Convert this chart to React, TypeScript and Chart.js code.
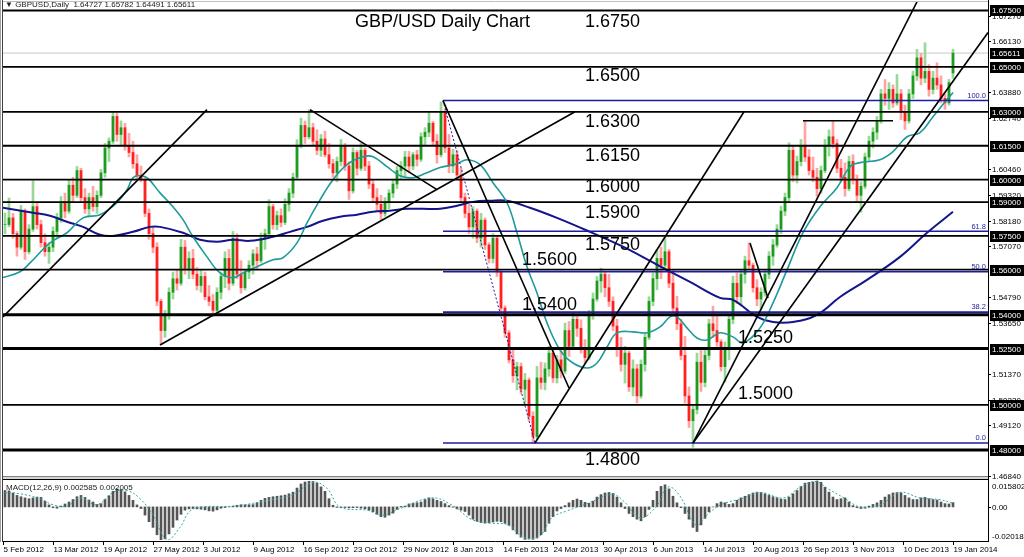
import React, { useEffect, useRef } from "react";
import { Chart, registerables } from "chart.js";
Chart.register(...registerables);

// ---------- DATA (2-trading-day bars, index 0..237) ----------
const dateLabels = ["5 Feb 2012","13 Mar 2012","19 Apr 2012","27 May 2012","3 Jul 2012","9 Aug 2012","16 Sep 2012","23 Oct 2012","29 Nov 2012","8 Jan 2013","14 Feb 2013","24 Mar 2013","30 Apr 2013","6 Jun 2013","14 Jul 2013","20 Aug 2013","26 Sep 2013","3 Nov 2013","10 Dec 2013","19 Jan 2014"];
const barsPerDateLabel = 12.5;

const openP = [
1.5800,1.5800,1.5830,1.5760,1.5700,1.5860,1.5680,1.5780,1.5880,1.5800,
1.5720,1.5680,1.5700,1.5770,1.5830,1.5900,1.5860,1.5975,1.5930,1.6040,
1.5920,1.5870,1.5920,1.5880,1.5930,1.6030,1.6140,1.6170,1.6280,1.6200,
1.6230,1.6150,1.6120,1.6070,1.6020,1.6000,1.5850,1.5760,1.5700,1.5460,
1.5330,1.5400,1.5500,1.5560,1.5540,1.5700,1.5600,1.5650,1.5580,1.5530,
1.5570,1.5480,1.5460,1.5420,1.5500,1.5570,1.5650,1.5540,1.5740,1.5580,
1.5520,1.5590,1.5620,1.5670,1.5640,1.5740,1.5760,1.5880,1.5800,1.5840,
1.5810,1.5890,1.5940,1.6010,1.6150,1.6240,1.6190,1.6230,1.6170,1.6130,
1.6180,1.6110,1.6070,1.6030,1.6080,1.6150,1.6060,1.5950,1.6120,1.6050,
1.6130,1.6060,1.5980,1.5920,1.5890,1.5850,1.5900,1.5940,1.5980,1.6040,
1.6060,1.6100,1.6060,1.6110,1.6090,1.6190,1.6210,1.6250,1.6170,1.6110,
1.6300,1.6140,1.6060,1.6110,1.6020,1.5920,1.5850,1.5790,1.5860,1.5740,
1.5820,1.5710,1.5650,1.5740,1.5590,1.5430,1.5320,1.5200,1.5130,1.5170,
1.5070,1.5110,1.4950,1.4860,1.5120,1.5100,1.5160,1.5230,1.5120,1.5200,
1.5150,1.5330,1.5260,1.5380,1.5340,1.5250,1.5210,1.5400,1.5470,1.5550,
1.5580,1.5520,1.5460,1.5350,1.5250,1.5180,1.5230,1.5080,1.5160,1.5040,
1.5180,1.5300,1.5460,1.5560,1.5650,1.5620,1.5680,1.5540,1.5430,1.5360,
1.5220,1.5040,1.4930,1.4980,1.5190,1.5100,1.5220,1.5360,1.5330,1.5280,
1.5170,1.5250,1.5380,1.5540,1.5480,1.5580,1.5640,1.5620,1.5520,1.5470,
1.5500,1.5580,1.5660,1.5710,1.5780,1.5860,1.5920,1.6130,1.6020,1.6080,
1.6150,1.6100,1.6040,1.6010,1.5960,1.6040,1.6150,1.6190,1.6160,1.6050,
1.6010,1.5960,1.6080,1.6000,1.5930,1.5970,1.6100,1.6170,1.6210,1.6260,
1.6380,1.6360,1.6400,1.6340,1.6380,1.6300,1.6260,1.6380,1.6460,1.6540,
1.6450,1.6480,1.6400,1.6450,1.6420,1.6360,1.6340,1.6473];

const highP = [
1.5852,1.5918,1.5850,1.5770,1.5885,1.5870,1.5800,1.5995,1.5900,1.5820,
1.5760,1.5720,1.5790,1.5850,1.5925,1.5940,1.5998,1.6010,1.6058,1.6050,
1.5960,1.5940,1.5970,1.5950,1.6045,1.6160,1.6185,1.6302,1.6295,1.6260,
1.6250,1.6205,1.6170,1.6110,1.6060,1.6010,1.5870,1.5790,1.5720,1.5470,
1.5420,1.5520,1.5590,1.5600,1.5735,1.5730,1.5680,1.5690,1.5610,1.5600,
1.5590,1.5530,1.5490,1.5520,1.5590,1.5680,1.5690,1.5770,1.5760,1.5640,
1.5600,1.5640,1.5689,1.5700,1.5763,1.5780,1.5911,1.5890,1.5860,1.5870,
1.5915,1.5960,1.6029,1.6177,1.6273,1.6260,1.6309,1.6250,1.6221,1.6200,
1.6215,1.6160,1.6090,1.6100,1.6178,1.6160,1.6080,1.6140,1.6130,1.6162,
1.6140,1.6080,1.6000,1.5960,1.5930,1.5920,1.5955,1.6000,1.6059,1.6080,
1.6125,1.6125,1.6120,1.6130,1.6207,1.6230,1.6303,1.6258,1.6200,1.6344,
1.6310,1.6200,1.6135,1.6130,1.6050,1.5940,1.5890,1.5880,1.5870,1.5850,
1.5830,1.5720,1.5760,1.5750,1.5600,1.5440,1.5330,1.5245,1.5190,1.5186,
1.5140,1.5120,1.4970,1.5171,1.5190,1.5186,1.5260,1.5245,1.5220,1.5240,
1.5363,1.5370,1.5408,1.5400,1.5378,1.5290,1.5420,1.5497,1.5570,1.5607,
1.5590,1.5580,1.5480,1.5380,1.5300,1.5260,1.5240,1.5200,1.5180,1.5200,
1.5320,1.5480,1.5585,1.5689,1.5700,1.5752,1.5690,1.5600,1.5482,1.5380,
1.5304,1.5080,1.5000,1.5230,1.5245,1.5250,1.5380,1.5438,1.5400,1.5290,
1.5280,1.5400,1.5571,1.5586,1.5600,1.5660,1.5719,1.5630,1.5556,1.5520,
1.5600,1.5680,1.5734,1.5800,1.5882,1.5940,1.6163,1.6150,1.6104,1.6178,
1.6259,1.6133,1.6100,1.6050,1.6060,1.6178,1.6220,1.6259,1.6178,1.6090,
1.6074,1.6104,1.6110,1.6020,1.5990,1.6118,1.6192,1.6230,1.6280,1.6400,
1.6444,1.6430,1.6420,1.6466,1.6400,1.6330,1.6400,1.6481,1.6577,1.6560,
1.6607,1.6510,1.6480,1.6518,1.6460,1.6380,1.6444,1.6578];

const lowP = [
1.5760,1.5790,1.5740,1.5660,1.5690,1.5645,1.5670,1.5770,1.5780,1.5700,
1.5660,1.5628,1.5680,1.5740,1.5810,1.5830,1.5850,1.5900,1.5920,1.5900,
1.5850,1.5840,1.5860,1.5850,1.5920,1.6010,1.6080,1.6160,1.6170,1.6150,
1.6130,1.6100,1.6050,1.6000,1.5990,1.5835,1.5735,1.5675,1.5440,1.5268,
1.5300,1.5380,1.5470,1.5510,1.5530,1.5580,1.5560,1.5560,1.5510,1.5500,
1.5466,1.5440,1.5393,1.5410,1.5470,1.5520,1.5510,1.5530,1.5560,1.5496,
1.5510,1.5560,1.5580,1.5600,1.5630,1.5690,1.5750,1.5780,1.5777,1.5790,
1.5800,1.5860,1.5920,1.6000,1.6140,1.6160,1.6180,1.6150,1.6110,1.6103,
1.6100,1.6050,1.6010,1.5990,1.6060,1.6040,1.5912,1.5940,1.6020,1.6040,
1.6040,1.5960,1.5900,1.5860,1.5822,1.5837,1.5870,1.5920,1.5960,1.6000,
1.6014,1.6030,1.6044,1.6060,1.6080,1.6150,1.6190,1.6155,1.6073,1.6100,
1.6120,1.6030,1.6030,1.6000,1.5900,1.5830,1.5760,1.5740,1.5720,1.5700,
1.5690,1.5630,1.5630,1.5570,1.5410,1.5300,1.5186,1.5100,1.5067,1.5050,
1.5000,1.4930,1.4832,1.4850,1.5070,1.5067,1.5127,1.5100,1.5097,1.5120,
1.5140,1.5215,1.5250,1.5304,1.5230,1.5186,1.5200,1.5380,1.5460,1.5500,
1.5480,1.5437,1.5330,1.5215,1.5150,1.5097,1.5060,1.5040,1.5009,1.5030,
1.5150,1.5290,1.5440,1.5511,1.5560,1.5610,1.5520,1.5408,1.5334,1.5200,
1.5008,1.4900,1.4812,1.4960,1.5060,1.5080,1.5200,1.5300,1.5260,1.5150,
1.5102,1.5200,1.5360,1.5450,1.5440,1.5540,1.5600,1.5500,1.5440,1.5423,
1.5482,1.5560,1.5620,1.5700,1.5760,1.5840,1.5900,1.5990,1.5985,1.6060,
1.6080,1.6020,1.5990,1.5926,1.5940,1.6030,1.6104,1.6140,1.6030,1.5990,
1.5926,1.5950,1.5980,1.5900,1.5855,1.5960,1.6080,1.6140,1.6178,1.6250,
1.6330,1.6311,1.6320,1.6330,1.6266,1.6222,1.6250,1.6360,1.6440,1.6420,
1.6430,1.6370,1.6380,1.6400,1.6340,1.6311,1.6330,1.6449];

const closeP = [
1.5800,1.5830,1.5760,1.5700,1.5860,1.5680,1.5780,1.5880,1.5800,1.5720,
1.5680,1.5700,1.5770,1.5830,1.5900,1.5860,1.5975,1.5930,1.6040,1.5920,
1.5870,1.5920,1.5880,1.5930,1.6030,1.6140,1.6170,1.6280,1.6200,1.6230,
1.6150,1.6120,1.6070,1.6020,1.6000,1.5850,1.5760,1.5700,1.5460,1.5330,
1.5400,1.5500,1.5560,1.5540,1.5700,1.5600,1.5650,1.5580,1.5530,1.5570,
1.5480,1.5460,1.5420,1.5500,1.5570,1.5650,1.5540,1.5740,1.5580,1.5520,
1.5590,1.5620,1.5670,1.5640,1.5740,1.5760,1.5880,1.5800,1.5840,1.5810,
1.5890,1.5940,1.6010,1.6150,1.6240,1.6190,1.6230,1.6170,1.6130,1.6180,
1.6110,1.6070,1.6030,1.6080,1.6150,1.6060,1.5950,1.6120,1.6050,1.6130,
1.6060,1.5980,1.5920,1.5890,1.5850,1.5900,1.5940,1.5980,1.6040,1.6060,
1.6100,1.6060,1.6110,1.6090,1.6190,1.6210,1.6250,1.6170,1.6110,1.6300,
1.6140,1.6060,1.6110,1.6020,1.5920,1.5850,1.5790,1.5860,1.5740,1.5820,
1.5710,1.5650,1.5740,1.5590,1.5430,1.5320,1.5200,1.5130,1.5170,1.5070,
1.5110,1.4950,1.4860,1.5120,1.5100,1.5160,1.5230,1.5120,1.5200,1.5150,
1.5330,1.5260,1.5380,1.5340,1.5250,1.5210,1.5400,1.5470,1.5550,1.5580,
1.5520,1.5460,1.5350,1.5250,1.5180,1.5230,1.5080,1.5160,1.5040,1.5180,
1.5300,1.5460,1.5560,1.5650,1.5620,1.5680,1.5540,1.5430,1.5360,1.5220,
1.5040,1.4930,1.4980,1.5190,1.5100,1.5220,1.5360,1.5330,1.5280,1.5170,
1.5250,1.5380,1.5540,1.5480,1.5580,1.5640,1.5620,1.5520,1.5470,1.5500,
1.5580,1.5660,1.5710,1.5780,1.5860,1.5920,1.6130,1.6020,1.6080,1.6150,
1.6100,1.6040,1.6010,1.5960,1.6040,1.6150,1.6190,1.6160,1.6050,1.6010,
1.5960,1.6080,1.6000,1.5930,1.5970,1.6100,1.6170,1.6210,1.6260,1.6380,
1.6360,1.6400,1.6340,1.6380,1.6300,1.6260,1.6380,1.6460,1.6540,1.6450,
1.6480,1.6400,1.6450,1.6420,1.6360,1.6340,1.6430,1.6561];

// 50-period MA (teal), read at bar positions
const ma50K = [-0.5,3.75,6.25,11.25,15.5,19.5,23.75,28,30.5,32,33.25,35.5,38.75,42,44.5,47,50.5,53.75,57,59.5,63,67,69.5,73,75.5,78.75,82,85.5,89.5,92,95.5,98.75,102,105.5,108.75,113,115.5,118.75,122,125.5,128,130.5,133,135.5,138.75,142,145.5,148,150.5,153,157,160.5,163.75,166.25,168,170.5,173,175.5,178.75,182,184.5,188.75,192,195.5,199.5,203.75,208,211.25,213.75,218.75,222,225.5,228.75,232,235.5,237];
const ma50V = [1.5565,1.5591,1.5630,1.5719,1.5764,1.5830,1.5844,1.5897,1.5955,1.6008,1.6017,1.6008,1.5941,1.5879,1.5822,1.5746,1.5657,1.5586,1.5564,1.5586,1.5613,1.5644,1.5653,1.5719,1.5808,1.5910,1.5999,1.6066,1.6101,1.6101,1.6057,1.6017,1.6008,1.6030,1.6053,1.6070,1.6088,1.6066,1.5986,1.5897,1.5764,1.5613,1.5497,1.5364,1.5244,1.5186,1.5164,1.5186,1.5257,1.5320,1.5324,1.5320,1.5346,1.5391,1.5391,1.5342,1.5297,1.5288,1.5320,1.5302,1.5275,1.5342,1.5453,1.5599,1.5764,1.5879,1.5964,1.6057,1.6075,1.6088,1.6124,1.6190,1.6208,1.6279,1.6355,1.6386];

// 200-period MA (navy)
const ma200K = [-0.5,7,11.25,15.5,19.5,23.75,27,32,36.25,38.75,44.5,48.75,53,57,61.25,67,71.25,75.5,79.5,83.75,88,92,96.25,100.5,104.5,108.75,113,117,121.25,125.5,131.25,138,146.25,154.5,163,171.25,178.75,182,188,192,197,203,208.75,215.5,223.75,230.5,237];
const ma200V = [1.5875,1.5853,1.5839,1.5813,1.5790,1.5755,1.5750,1.5768,1.5790,1.5790,1.5764,1.5733,1.5724,1.5733,1.5728,1.5746,1.5768,1.5790,1.5817,1.5835,1.5844,1.5857,1.5862,1.5870,1.5870,1.5870,1.5884,1.5901,1.5906,1.5906,1.5875,1.5830,1.5768,1.5702,1.5622,1.5546,1.5475,1.5466,1.5391,1.5368,1.5368,1.5400,1.5479,1.5555,1.5657,1.5764,1.5857];

// MACD histogram per bar
const macdHist = [
0.0100,0.0098,0.0085,0.0070,0.0062,0.0055,0.0050,0.0055,0.0060,0.0058,
0.0035,0.0012,-0.0005,-0.0008,0.0005,0.0018,0.0030,0.0045,0.0062,0.0070,
0.0058,0.0042,0.0030,0.0015,0.0020,0.0045,0.0068,0.0095,0.0110,0.0105,
0.0092,0.0070,0.0040,0.0012,-0.0010,-0.0050,-0.0090,-0.0125,-0.0170,-0.0200,
-0.0195,-0.0165,-0.0125,-0.0080,-0.0045,-0.0020,-0.0012,-0.0010,-0.0012,-0.0014,
-0.0018,-0.0024,-0.0026,-0.0018,-0.0008,-0.0004,0.0000,0.0004,0.0010,0.0013,
0.0012,0.0013,0.0014,0.0025,0.0040,0.0052,0.0058,0.0062,0.0065,0.0068,
0.0072,0.0080,0.0090,0.0115,0.0140,0.0152,0.0156,0.0155,0.0145,0.0122,
0.0095,0.0050,0.0010,-0.0003,-0.0005,-0.0004,-0.0006,-0.0005,-0.0004,-0.0008,
-0.0012,-0.0020,-0.0030,-0.0045,-0.0060,-0.0063,-0.0050,-0.0038,-0.0015,0.0003,
0.0005,0.0018,0.0022,0.0025,0.0030,0.0045,0.0055,0.0050,0.0040,0.0033,
0.0020,0.0008,-0.0002,-0.0012,-0.0020,-0.0028,-0.0050,-0.0075,-0.0088,-0.0095,
-0.0099,-0.0098,-0.0092,-0.0088,-0.0090,-0.0100,-0.0112,-0.0140,-0.0165,-0.0185,
-0.0198,-0.0196,-0.0198,-0.0190,-0.0170,-0.0150,-0.0100,-0.0060,-0.0025,-0.0010,
0.0008,0.0025,0.0040,0.0048,0.0040,0.0028,0.0022,0.0035,0.0060,0.0075,
0.0085,0.0088,0.0082,0.0060,0.0025,-0.0010,-0.0040,-0.0060,-0.0075,-0.0085,
-0.0060,-0.0015,0.0040,0.0095,0.0125,0.0135,0.0110,0.0065,0.0025,-0.0005,
-0.0040,-0.0075,-0.0125,-0.0150,-0.0110,-0.0070,-0.0030,0.0000,0.0020,0.0030,
0.0025,0.0015,0.0020,0.0040,0.0055,0.0065,0.0075,0.0085,0.0090,0.0088,
0.0080,0.0070,0.0062,0.0055,0.0048,0.0045,0.0060,0.0080,0.0100,0.0125,
0.0145,0.0150,0.0152,0.0158,0.0150,0.0120,0.0090,0.0060,0.0045,0.0050,
0.0055,0.0030,0.0008,-0.0005,-0.0010,-0.0008,0.0005,0.0015,0.0025,0.0040,
0.0060,0.0075,0.0085,0.0088,0.0085,0.0070,0.0055,0.0045,0.0045,0.0055,
0.0058,0.0050,0.0045,0.0042,0.0030,0.0020,0.0018,0.0026];

// MACD signal line (dotted)
const sigK = [0,3.75,8.75,12,15.5,18.75,23,27,30.5,33.75,37,40.5,43.75,46.25,49.5,57,65.5,72,77,80.5,83.75,90.5,94.5,98.75,106.75,111.75,116.75,121.75,125.75,129.75,133.75,136.75,140.75,145.75,151.75,154.75,158.75,162.75,165.75,168.75,172.75,175.75,178.75,184.75,188.75,194.75,198.75,202.75,205.75,209.75,213.75,218.75,223.75,228.75,233.75,237];
const sigV = [0.0088,0.0080,0.0050,0.0013,0.0005,0.0055,0.0013,0.0088,0.0100,0.0050,-0.0050,-0.0200,-0.0125,-0.0025,0.0000,0.0005,0.0038,0.0075,0.0150,0.0113,0.0000,-0.0020,-0.0050,-0.0010,0.0055,0.0011,-0.0077,-0.0099,-0.0110,-0.0187,-0.0176,-0.0066,-0.0022,0.0022,0.0077,0.0033,-0.0066,0.0000,0.0121,0.0066,-0.0110,-0.0044,0.0011,0.0055,0.0088,0.0055,0.0121,0.0154,0.0110,0.0055,0.0000,0.0011,0.0088,0.0055,0.0044,0.0022];

// Horizontal support / resistance levels
const levels = [1.675, 1.65, 1.63, 1.615, 1.60, 1.59, 1.575, 1.56, 1.54, 1.525, 1.50, 1.48];
const boldLevels = [1.54, 1.525, 1.48];
const lastPrice = 1.65611;
const headerText = "\u25BC GBPUSD,Daily  1.64727 1.65782 1.64491 1.65611";
const macdTitle = "MACD(12,26,9) 0.002585 0.002005";

// Fibonacci retracement (anchor bars and prices)
const fibStartK = 109.5, fibEndK = 132.5;
const fibHigh = 1.6351, fibLow = 1.4831;
const fibRatios = [100.0, 61.8, 50.0, 38.2, 0.0];

// Trend lines [k1, p1, k2, p2]
const trendLines = [
  [-0.5, 1.5391, 50.5, 1.6310],
  [38.75, 1.5266, 142.5, 1.6301],
  [76.25, 1.6310, 108, 1.5955],
  [109.5, 1.6350, 141, 1.5075],
  [132.5, 1.4831, 184.75, 1.6301],
  [172, 1.4831, 228.5, 1.6806],
  [172, 1.4831, 245.75, 1.6652],
  [186.25, 1.5719, 190.75, 1.5475],
  [199.5, 1.6261, 222, 1.6261],
];

// Right price-axis ticks
const priceTicks = [1.6727, 1.6613, 1.6388, 1.6274, 1.6046, 1.5932, 1.5818, 1.5707, 1.5479, 1.5365, 1.5137, 1.5023, 1.4912, 1.4684];
const macdMax = 0.015802, macdMin = -0.020188;

// Chart text objects [text, barIndex, price(center)]
const chartTexts: [string, number, number][] = [
  ["GBP/USD Daily Chart", 87.5, 1.6701],
  ["1.6750", 145, 1.6701],
  ["1.6500", 145, 1.6459],
  ["1.6300", 145, 1.6255],
  ["1.6150", 145, 1.6105],
  ["1.6000", 145, 1.5967],
  ["1.5900", 145, 1.5852],
  ["1.5750", 145, 1.5710],
  ["1.5600", 129.25, 1.5643],
  ["1.5400", 129.25, 1.5444],
  ["1.5250", 183.25, 1.5297],
  ["1.5000", 183.25, 1.5049],
  ["1.4800", 145, 1.4756],
];

// ---------- scale ranges ----------
const X_MIN = -0.5, X_MAX = 245.75;
const Y_MAX = 1.678771, Y_MIN = 1.439641;
const M_MAX = 0.308055, M_MIN = -0.020806;
const PANEL_BOTTOM_PRICE = 1.4684;

const FONT = '"Liberation Sans", "DejaVu Sans", Arial, sans-serif';

const overlay = {
  id: "mt4overlay",
  afterDraw(chart: any) {
    const ctx = chart.ctx as CanvasRenderingContext2D;
    const xs = chart.scales.x, ys = chart.scales.y, ms = chart.scales.m;
    const { left, right, top, bottom } = chart.chartArea;
    ctx.save();
    // panel separator
    const sep = Math.round(ys.getPixelForValue(PANEL_BOTTOM_PRICE));
    ctx.fillStyle = "#d4d4d4";
    ctx.fillRect(left - 1, sep, right - left + 1, 4);
    ctx.strokeStyle = "#808080"; ctx.lineWidth = 1;
    ctx.beginPath(); ctx.moveTo(left - 1, sep + 0.5); ctx.lineTo(right, sep + 0.5); ctx.stroke();
    ctx.strokeStyle = "#000";
    ctx.beginPath(); ctx.moveTo(left - 1, sep + 3.5); ctx.lineTo(right, sep + 3.5); ctx.stroke();
    // frame
    ctx.strokeStyle = "#000";
    ctx.beginPath(); ctx.moveTo(right + 0.5, 0); ctx.lineTo(right + 0.5, bottom + 1); ctx.stroke();
    ctx.beginPath(); ctx.moveTo(left - 1, bottom + 0.5); ctx.lineTo(right + 1, bottom + 0.5); ctx.stroke();
    ctx.strokeStyle = "#404040";
    ctx.beginPath(); ctx.moveTo(left - 0.5, 0); ctx.lineTo(left - 0.5, bottom + 1); ctx.stroke();
    ctx.strokeStyle = "#a0a0a0";
    ctx.beginPath(); ctx.moveTo(0.5, 0); ctx.lineTo(0.5, bottom + 1); ctx.stroke();
    ctx.strokeStyle = "#c0c0c0";
    ctx.beginPath(); ctx.moveTo(left, top - 0.5); ctx.lineTo(right, top - 0.5); ctx.stroke();

    // right axis regular ticks
    ctx.font = "8px " + FONT;
    ctx.textBaseline = "middle"; ctx.textAlign = "left";
    ctx.fillStyle = "#000"; ctx.strokeStyle = "#000";
    priceTicks.forEach((v) => {
      const py = Math.round(ys.getPixelForValue(v)) + 0.5;
      ctx.beginPath(); ctx.moveTo(right, py); ctx.lineTo(right + 3, py); ctx.stroke();
      ctx.fillText(v.toFixed(5), right + 4, py);
    });
    // boxed level labels
    [...levels, lastPrice].forEach((v) => {
      const py = Math.round(ys.getPixelForValue(v));
      ctx.fillStyle = "#000";
      ctx.fillRect(right + 2, py - 5, 35, 11);
      ctx.fillStyle = "#fff";
      ctx.fillText(v.toFixed(5), right + 4, py + 0.5);
    });
    // MACD axis labels
    ctx.fillStyle = "#000";
    ctx.fillText(macdMax.toFixed(6), right + 4, ms.getPixelForValue(macdMax) + 6);
    const z = Math.round(ms.getPixelForValue(0)) + 0.5;
    ctx.beginPath(); ctx.moveTo(right, z); ctx.lineTo(right + 3, z); ctx.stroke();
    ctx.fillText("0.00", right + 4, z);
    ctx.fillText(macdMin.toFixed(6), right + 4, ms.getPixelForValue(macdMin) - 3);

    // date axis
    dateLabels.forEach((d, i) => {
      const px = Math.round(xs.getPixelForValue(i * barsPerDateLabel - 0.5)) + 0.5;
      ctx.beginPath(); ctx.moveTo(px, bottom + 1); ctx.lineTo(px, bottom + 4); ctx.stroke();
      ctx.fillText(d, px, bottom + 8.5);
    });

    // header and MACD title
    ctx.fillStyle = "#202020";
    ctx.fillText(headerText, left + 2, 5);
    ctx.fillText(macdTitle, left + 3, ms.getPixelForValue(macdMax) + 7);

    // fib labels
    ctx.fillStyle = "#1c1ca0"; ctx.textAlign = "right"; ctx.textBaseline = "bottom";
    ctx.font = "7.5px " + FONT;
    fibRatios.forEach((r) => {
      const p = fibLow + (fibHigh - fibLow) * r / 100;
      ctx.fillText(r.toFixed(1), right - 2, ys.getPixelForValue(p) - 1);
    });

    // chart text objects
    ctx.fillStyle = "#000"; ctx.textAlign = "left"; ctx.textBaseline = "middle";
    ctx.font = "18px " + FONT;
    chartTexts.forEach(([t, k, p]) => {
      ctx.fillText(t, xs.getPixelForValue(k), ys.getPixelForValue(p));
    });
    ctx.restore();
  },
};

export default function App() {
  const ref = useRef<HTMLCanvasElement | null>(null);
  useEffect(() => {
    if (!ref.current) return;
    const up = (i: number) => closeP[i] >= openP[i];
    const line = (pts: any[], color: string, width: number, order: number, extra: any = {}) => ({
      type: "line", data: pts, borderColor: color, borderWidth: width, pointRadius: 0,
      fill: false, order, yAxisID: "y", xAxisID: "x", tension: 0, ...extra,
    });
    const datasets: any[] = [];
    // current price line
    datasets.push(line([{ x: X_MIN, y: lastPrice }, { x: X_MAX, y: lastPrice }], "#c8c8c8", 1, 30));
    // bars: wicks then bodies
    datasets.push({
      type: "bar", data: highP.map((h, i) => ({ x: i, y: [lowP[i], h] })),
      backgroundColor: closeP.map((_, i) => (up(i) ? "#98d898" : "#ffa4a4")),
      barThickness: 2, grouped: false, order: 25, yAxisID: "y", xAxisID: "x",
    });
    datasets.push({
      type: "bar", data: openP.map((o, i) => ({ x: i, y: [o, closeP[i]] })),
      backgroundColor: closeP.map((_, i) => (up(i) ? "#1e9a1e" : "#ff2020")),
      barThickness: 2, grouped: false, order: 24, yAxisID: "y", xAxisID: "x",
    });
    // MACD
    datasets.push({
      type: "bar", data: macdHist.map((v, i) => ({ x: i, y: v })),
      backgroundColor: "#555555", barThickness: 2, grouped: false, order: 23,
      yAxisID: "m", xAxisID: "x",
    });
    datasets.push({
      type: "line", data: sigK.map((k, i) => ({ x: k, y: sigV[i] })),
      borderColor: "#2aa8a8", borderWidth: 1, borderDash: [2, 2], pointRadius: 0,
      fill: false, tension: 0.4, order: 22, yAxisID: "m", xAxisID: "x",
    });
    // moving averages
    datasets.push(line(ma200K.map((k, i) => ({ x: k, y: ma200V[i] })), "#14148c", 2, 12, { tension: 0.4 }));
    datasets.push(line(ma50K.map((k, i) => ({ x: k, y: ma50V[i] })), "#1f9a9a", 1.6, 11, { tension: 0.4 }));
    // horizontal levels
    levels.forEach((lv) =>
      datasets.push(line([{ x: X_MIN, y: lv }, { x: X_MAX, y: lv }], "#000", boldLevels.includes(lv) ? 3 : 1.8, 5)));
    // fibonacci
    fibRatios.forEach((r) => {
      const p = fibLow + (fibHigh - fibLow) * r / 100;
      datasets.push(line([{ x: fibStartK, y: p }, { x: X_MAX, y: p }], "#1c1ca0", 1.6, 4));
    });
    datasets.push(line([{ x: fibStartK, y: fibHigh }, { x: fibEndK, y: fibLow }], "#1c1ca0", 1, 4, { borderDash: [2, 2] }));
    // trend lines
    trendLines.forEach(([k1, p1, k2, p2]) =>
      datasets.push(line([{ x: k1, y: p1 }, { x: k2, y: p2 }], "#000", 1.6, 3)));

    const chart = new Chart(ref.current, {
      type: "bar",
      data: { datasets },
      options: {
        responsive: false, animation: false, devicePixelRatio: 1, events: [],
        layout: { padding: { left: 3, top: 2, right: 36, bottom: 16 } },
        plugins: { legend: { display: false }, tooltip: { enabled: false }, title: { display: false } },
        scales: {
          x: { type: "linear", min: X_MIN, max: X_MAX, display: false, offset: false },
          y: { type: "linear", min: Y_MIN, max: Y_MAX, display: false },
          m: { type: "linear", min: M_MIN, max: M_MAX, display: false },
        },
      } as any,
      plugins: [overlay as any],
    } as any);
    return () => chart.destroy();
  }, []);
  return (
    <div style={{ position: "absolute", left: 0, top: 0, width: 1024, height: 557, background: "#fff" }}>
      <canvas ref={ref} width={1024} height={557} style={{ display: "block", width: 1024, height: 557 }} />
    </div>
  );
}
